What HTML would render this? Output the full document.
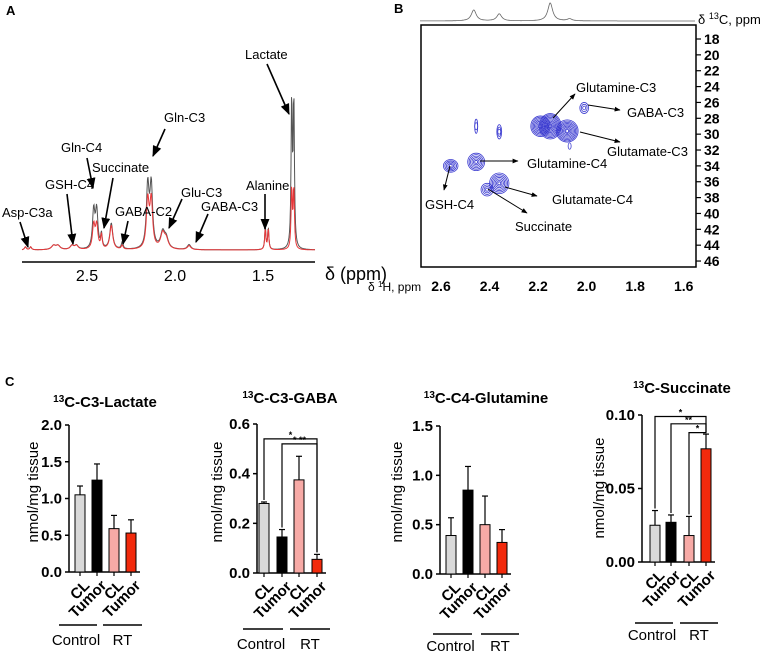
<!DOCTYPE html>
<html><head><meta charset="utf-8">
<style>
html,body{margin:0;padding:0;background:#fff;}
svg{display:block;font-family:"Liberation Sans",Arial,sans-serif;}
.b{font-weight:bold;}
</style></head>
<body>
<svg id="fig" width="767" height="656" viewBox="0 0 767 656" xmlns="http://www.w3.org/2000/svg">
<defs>
<marker id="ah" viewBox="0 0 10 10" refX="9" refY="5" markerWidth="7" markerHeight="7" orient="auto"><path d="M0,1 L10,5 L0,9 z" fill="#000"/></marker>
<marker id="ah2" viewBox="0 0 10 10" refX="9" refY="5" markerWidth="6" markerHeight="6" orient="auto"><path d="M0,1 L10,5 L0,9 z" fill="#000"/></marker>
</defs>
<g id="panelA">
<text x="6" y="15" class="b" font-size="13">A</text>
<line x1="22" y1="262" x2="315" y2="262" stroke="#000" stroke-width="1.5"/>
<g id="aTicks"></g>
<path id="specGrey" fill="none" stroke="#555" stroke-width="1"/>
<path id="specRed" fill="none" stroke="#e8383a" stroke-width="1"/>
<text x="325" y="280" font-size="18">δ (ppm)</text>
<g id="aLabels" font-size="13"></g>
</g>
<g id="panelB">
<text x="394" y="13" class="b" font-size="13">B</text>
<path id="topSpec" fill="none" stroke="#666" stroke-width="0.8"/>
<text x="698" y="24" font-size="13">δ <tspan font-size="9" dy="-5">13</tspan><tspan dy="5">C, ppm</tspan></text>
<rect x="421" y="25" width="275" height="242" fill="none" stroke="#000" stroke-width="1.5"/>
<g id="contours"></g>
<g id="bTicks" font-size="14" class="b"></g>
<text x="368" y="291" font-size="12">δ <tspan font-size="8" dy="-4">1</tspan><tspan dy="4">H, ppm</tspan></text>
<g id="bLabels" font-size="13"></g>
</g>
<text x="5" y="386" class="b" font-size="13">C</text>
<g id="charts"></g>
</svg>
<script>
// ---------- Panel A data ----------
const peakPpm   = [2.85,2.82,2.69,2.665,2.585,2.56,2.462,2.445,2.418,2.362,2.30,2.155,2.135,2.07,2.05,1.92,1.487,1.470,1.337,1.325];
const peakGrey  = [3,3,4,4,4,4,38,38,14,26,7,62,62,16,10,5,22,22,150,150];
const peakRed   = [3,3,4,4,4,4,24,24,14,24,4,48,48,15,9,4,21,21,62,62];
const peakWidth = [0.006,0.006,0.014,0.014,0.012,0.012,0.008,0.008,0.005,0.01,0.006,0.009,0.009,0.014,0.014,0.012,0.004,0.004,0.004,0.004];
const aTickVals = [2.5,2.0,1.5];
const aLabelText = ["Lactate","Gln-C3","Gln-C4","Succinate","GSH-C4","Asp-C3a","GABA-C2","Glu-C3","GABA-C3","Alanine"];
const aLabelPos = [[245,59],[164,122],[61,152],[92,172],[45,189],[2,217],[115,216],[181,197],[201,211],[246,190]];
const aArrows = [[267,64,289,114],[165,129,153,156],[87,158,93,188],[113,178,104,228],[67,194,73,244],[20,222,28,247],[128,221,123,244],[182,199,169,228],[208,214,196,242],[265,194,265,229]];
const ax = p => 87 + (2.5 - p) * 176;
const ay = v => 250 - v;
function spec(h){
  let d="";
  for(let px=22;px<=315;px+=0.5){
    const p = 2.5-(px-87)/176;
    let s=0;
    for(let i=0;i<peakPpm.length;i++){const w=peakWidth[i];const dd=p-peakPpm[i];s+=h[i]*w*w/(dd*dd+w*w);}
    d+=(d?"L":"M")+px.toFixed(1)+","+ay(s).toFixed(1);
  }
  return d;
}
document.getElementById('specGrey').setAttribute('d',spec(peakGrey));
document.getElementById('specRed').setAttribute('d',spec(peakRed));
const NS="http://www.w3.org/2000/svg";
function mk(tag,attrs,parent,text){const e=document.createElementNS(NS,tag);for(const k in attrs)e.setAttribute(k,attrs[k]);if(text!==undefined)e.textContent=text;parent.appendChild(e);return e;}
const aT=document.getElementById('aTicks');
aTickVals.forEach(v=>{
  const t=mk('text',{x:ax(v),y:281,'text-anchor':'middle','font-size':'16'},aT,v.toFixed(1));
  
  
});
const aL=document.getElementById('aLabels');
aLabelText.forEach((s,i)=>{
  const t=mk('text',{x:aLabelPos[i][0],y:aLabelPos[i][1]},aL,s);
  
  
  const a=aArrows[i];
  const l=mk('line',{x1:a[0],y1:a[1],x2:a[2],y2:a[3],stroke:'#000','stroke-width':'1.6','marker-end':'url(#ah)'},aL);
  
  
});
// ---------- Panel B data ----------
const hTicks=[2.6,2.4,2.2,2.0,1.8,1.6];
const cTicks=[18,20,22,24,26,28,30,32,34,36,38,40,42,44,46];
const spotH=[2.01,2.19,2.15,2.08,2.455,2.36,2.56,2.455,2.36,2.41,2.07];
const spotC=[26.7,29.0,29.0,29.6,29.0,29.7,34.0,33.5,36.2,37.0,31.5];
const spotRH=[0.018,0.04,0.045,0.045,0.006,0.01,0.03,0.035,0.04,0.025,0.004];
const spotRC=[0.7,1.3,1.6,1.4,0.9,0.9,0.8,1.1,1.3,0.8,0.4];
const spotN=[3,8,10,9,2,3,5,6,7,4,1];
const bx=h=>441+(2.6-h)*242.7;
const by=c=>39+(c-18)*7.93;
const bT=document.getElementById('bTicks');
hTicks.forEach(v=>{const t=mk('text',{x:bx(v),y:291,'text-anchor':'middle'},bT,v.toFixed(1));});
cTicks.forEach(v=>{mk('line',{x1:696,x2:701,y1:by(v),y2:by(v),stroke:'#000','stroke-width':'1.2'},bT);const t=mk('text',{x:704,y:by(v)+5},bT,String(v));});
const cg=document.getElementById('contours');
spotH.forEach((h,i)=>{for(let k=1;k<=spotN[i];k++){const f=k/spotN[i];const e=mk('ellipse',{cx:bx(h),cy:by(spotC[i]),rx:Math.max(1.5,spotRH[i]*242.7*f),ry:Math.max(1.5,spotRC[i]*7.93*f),fill:'none',stroke:'#3b3bd0','stroke-width':'0.8'},cg);}});
const projPpm=[2.465,2.36,2.15,2.07];
const projHt=[11,7,18,2];
(function(){let d="";for(let px=420;px<=695;px+=0.5){const h=2.6-(px-441)/242.7;let s=0;projPpm.forEach((p,i)=>{const w=0.012;s+=projHt[i]*w*w/((h-p)*(h-p)+w*w);});d+=(d?"L":"M")+px+","+(21-s).toFixed(1);}document.getElementById('topSpec').setAttribute('d',d);})();
const bLabelText=["Glutamine-C3","GABA-C3","Glutamate-C3","Glutamine-C4","GSH-C4","Glutamate-C4","Succinate"];
const bLabelPos=[[576,92],[627,117],[607,156],[527,168],[425,209],[552,204],[515,231]];
const bArrows=[[553,118,575,94],[588,105,620,110],[580,132,620,142],[480,161,518,161],[450,166,444,190],[505,187,537,196],[488,189,527,213]];
const bL=document.getElementById('bLabels');
bLabelText.forEach((s,i)=>{const t=mk('text',{x:bLabelPos[i][0],y:bLabelPos[i][1]},bL,s);const a=bArrows[i];const l=mk('line',{x1:a[0],y1:a[1],x2:a[2],y2:a[3],stroke:'#000','stroke-width':'1','marker-end':'url(#ah2)'},bL);});
// ---------- Panel C data ----------
const categories=["CL","Tumor","CL","Tumor"];
const barColors=["#d9d9d9","#000000","#f7aaa6","#f22a0c"];
const lactateVals=[1.05,1.25,0.59,0.53];
const lactateErr=[0.12,0.22,0.18,0.18];
const gabaVals=[0.28,0.145,0.375,0.055];
const gabaErr=[0.006,0.03,0.095,0.02];
const glnVals=[0.39,0.85,0.50,0.32];
const glnErr=[0.18,0.24,0.29,0.13];
const succVals=[0.025,0.027,0.018,0.077];
const succErr=[0.010,0.005,0.013,0.010];
const lactateTicks=["0.0","0.5","1.0","1.5","2.0"];
const gabaTicks=["0.0","0.2","0.4","0.6"];
const glnTicks=["0.0","0.5","1.0","1.5"];
const succTicks=["0.00","0.05","0.10"];
const charts=[
 {name:"lactate",t:"C-C3-Lactate",vals:lactateVals,err:lactateErr,ticks:lactateTicks,max:2.0,axX:69,top:425,bot:572,bars:[80,97,114,131],ty:407,tx:105,yt:[38,492],ul:[[59,97],[103,142]],uly:625,gy:645,sig:[]},
 {name:"gaba",t:"C-C3-GABA",vals:gabaVals,err:gabaErr,ticks:gabaTicks,max:0.6,axX:257,top:424,bot:573,bars:[264,282,299,317],ty:403,tx:290,yt:[222,492],ul:[[243,283],[290,330]],uly:629,gy:649,sig:[[0,0.54,"*"],[1,0.52,"*  **"]]},
 {name:"glutamine",t:"C-C4-Glutamine",vals:glnVals,err:glnErr,ticks:glnTicks,max:1.5,axX:440,top:426,bot:574,bars:[451,468,485,502],ty:403,tx:486,yt:[402,492],ul:[[433,472],[481,519]],uly:634,gy:651,sig:[]},
 {name:"succinate",t:"C-Succinate",vals:succVals,err:succErr,ticks:succTicks,max:0.10,axX:642,top:415,bot:562,bars:[655,671,689,706],ty:393,tx:682,yt:[604,488],ul:[[635,673],[680,718]],uly:623,gy:640,sig:[[0,0.099,"*"],[1,0.094,"**"],[2,0.088,"*"]]}
];
const CG=document.getElementById('charts');
charts.forEach(c=>{
  const g=mk('g',{},CG);
  
  
  const y=v=>c.bot-(v/c.max)*(c.bot-c.top);
  const tt=mk('text',{x:c.tx,y:c.ty,'text-anchor':'middle','font-size':'15','font-weight':'bold'},g);
  
  
  mk('tspan',{'font-size':'10',dy:'-5'},tt,'13');
  mk('tspan',{dy:'5'},tt,c.t);
  const yt=mk('text',{x:c.yt[0],y:c.yt[1],'text-anchor':'middle','font-size':'15',transform:`rotate(-90 ${c.yt[0]} ${c.yt[1]})`},g,'nmol/mg tissue');
  
  
  mk('line',{x1:c.axX,x2:c.axX,y1:c.top,y2:c.bot,stroke:'#000','stroke-width':'1.5'},g);
  mk('line',{x1:c.axX,x2:c.bars[3]+9,y1:c.bot,y2:c.bot,stroke:'#000','stroke-width':'1.5'},g);
  c.ticks.forEach(s=>{const v=parseFloat(s);mk('line',{x1:c.axX-4,x2:c.axX,y1:y(v),y2:y(v),stroke:'#000','stroke-width':'1.5'},g);const t=mk('text',{x:c.axX-7,y:y(v)+5,'text-anchor':'end','font-size':'15','font-weight':'bold'},g,s);});
  c.vals.forEach((v,i)=>{
    const cx=c.bars[i];
    const eTop=y(v+c.err[i]);
    mk('line',{x1:cx,x2:cx,y1:y(v),y2:eTop,stroke:'#000','stroke-width':'1.2'},g);
    mk('line',{x1:cx-3,x2:cx+3,y1:eTop,y2:eTop,stroke:'#000','stroke-width':'1.2'},g);
    const r=mk('rect',{x:cx-5,y:y(v),width:10,height:c.bot-y(v),fill:barColors[i],stroke:'#000','stroke-width':'1'},g);
    
    
    mk('line',{x1:cx,x2:cx,y1:c.bot,y2:c.bot+4,stroke:'#000','stroke-width':'1.2'},g);
    const lx=cx+4, ly=c.bot+8;
    const ct=mk('text',{x:lx,y:ly,'text-anchor':'end','font-size':'15','font-weight':'bold',transform:`rotate(-45 ${lx} ${ly})`,dy:'9'},g,categories[i]);
    
    
  });
  c.sig.forEach(s=>{
    const sy=y(s[1]);const x0=c.bars[s[0]], x1=c.bars[3];
    mk('path',{d:`M${x0},${y(c.vals[s[0]]+c.err[s[0]])-2}V${sy}H${x1}V${y(c.vals[3]+c.err[3])-2}`,fill:'none',stroke:'#000','stroke-width':'1.2'},g);
    const st=mk('text',{x:(x0+x1)/2,y:sy-1,'text-anchor':'middle','font-size':'9','font-weight':'bold'},g,s[2]);
    
    
  });
  c.ul.forEach((u,k)=>{
    mk('line',{x1:u[0],x2:u[1],y1:c.uly,y2:c.uly,stroke:'#000','stroke-width':'1.5'},g);
    const gt=mk('text',{x:(u[0]+u[1])/2+(k==0?-2:0),y:c.gy,'text-anchor':'middle','font-size':'15'},g,k==0?'Control':'RT');
    
    
  });
});
</script>
</body></html>
